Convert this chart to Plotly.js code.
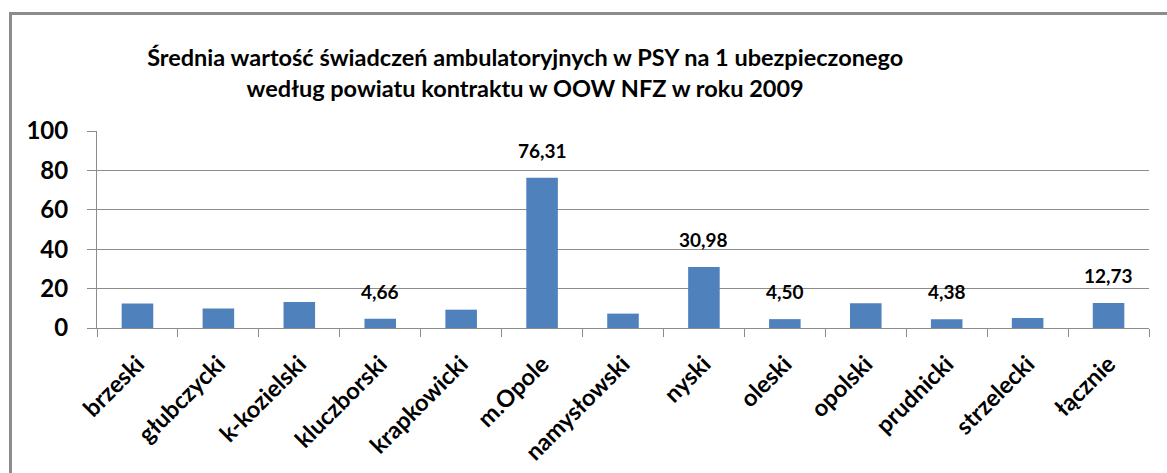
<!DOCTYPE html>
<html>
<head>
<meta charset="utf-8">
<script src="https://cdn.plot.ly/plotly-3.0.1.min.js"></script>
<style>
  html, body { margin: 0; padding: 0; background: #ffffff; }
  #wrap { position: relative; width: 1167px; height: 473px; overflow: hidden; }
  #chart { width: 1167px; height: 473px; }
  #frame { position: absolute; left: 9px; top: 12px; width: 1300px; height: 600px;
           border-left: 3px solid #8c8c8c; border-top: 3px solid #8c8c8c; pointer-events: none; }
</style>
</head>
<body>
<div id="wrap">
  <div id="chart"></div>
  <div id="frame"></div>
</div>
<script>
const categories = ["brzeski", "głubczycki", "k-kozielski", "kluczborski", "krapkowicki", "m.Opole",
                    "namysłowski", "nyski", "oleski", "opolski", "prudnicki", "strzelecki", "łącznie"];
const values = [12.4, 9.9, 13.2, 4.66, 9.3, 76.31, 7.3, 30.98, 4.50, 12.6, 4.38, 5.1, 12.73];
const labels = ["", "", "", "4,66", "", "76,31", "", "30,98", "4,50", "", "4,38", "", "12,73"];
const yTicks = [0, 20, 40, 60, 80, 100];
const titleText = "Średnia wartość świadczeń ambulatoryjnych w PSY na 1 ubezpieczonego<br>według powiatu kontraktu w OOW NFZ w roku 2009";

const FONT = "Lato, 'Open Sans', sans-serif";

const trace = {
  type: "bar",
  x: categories,
  y: values,
  marker: { color: "#4F81BD", line: { width: 0 } },
  hoverinfo: "x+y"
};

const annotations = [];
categories.forEach((c, i) => {
  if (labels[i]) {
    annotations.push({
      x: c, y: values[i], xref: "x", yref: "y",
      text: "<b>" + labels[i] + "</b>",
      showarrow: false, yanchor: "bottom", yshift: 14,
      font: { family: FONT, size: 19, color: "#000000" }
    });
  }
});

const layout = {
  width: 1167, height: 473,
  margin: { l: 97, r: 18, t: 131, b: 145 },
  paper_bgcolor: "#ffffff", plot_bgcolor: "#ffffff",
  showlegend: false,
  bargap: 0.61,
  title: {
    text: "<b>" + titleText + "</b>",
    x: 0.45, xref: "container", xanchor: "center",
    y: 1 - 66 / 473, yref: "container", yanchor: "top",
    font: { family: FONT, size: 23.5, color: "#000000" }
  },
  xaxis: {
    type: "category",
    tickangle: -45,
    tickson: "boundaries",
    ticks: "outside", ticklen: 8, tickcolor: "#8c8c8c", tickwidth: 1,
    showline: true, linecolor: "#8c8c8c", linewidth: 1,
    showgrid: false,
    ticklabelstandoff: 12,
    tickfont: { family: FONT, size: 23.5, color: "#000000", weight: "bold" }
  },
  yaxis: {
    range: [0, 100],
    tickvals: yTicks,
    ticktext: yTicks.map(String),
    ticks: "outside", ticklen: 9, tickcolor: "#8c8c8c", tickwidth: 1,
    showline: true, linecolor: "#8c8c8c", linewidth: 1,
    showgrid: true, gridcolor: "#8c8c8c", gridwidth: 1,
    zeroline: false,
    ticklabelstandoff: 14,
    tickfont: { family: FONT, size: 24, color: "#000000", weight: "bold" }
  },
  annotations: annotations
};

Plotly.newPlot("chart", [trace], layout, { displayModeBar: false, staticPlot: true });
</script>
</body>
</html>
